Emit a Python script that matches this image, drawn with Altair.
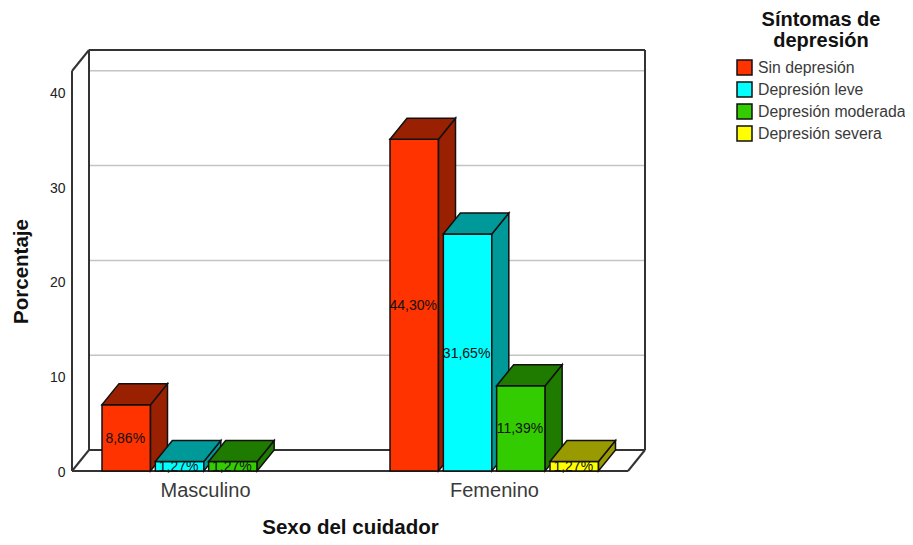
import altair as alt
import pandas as pd

categories = ["Masculino", "Femenino"]
series = ["Sin depresión", "Depresión leve", "Depresión moderada", "Depresión severa"]
front_colors = ["#FF3300", "#00FFFF", "#33CC00", "#FFFF00"]
dark_colors = ["#992000", "#009999", "#1F7A00", "#999900"]
# (category index, series index, value, label)
bar_cat = [0, 0, 0, 1, 1, 1, 1]
bar_ser = [0, 1, 2, 0, 1, 2, 3]
bar_val = [7, 1, 1, 35, 25, 9, 1]
bar_lab = ["8,86%", "1,27%", "1,27%", "44,30%", "31,65%", "11,39%", "1,27%"]
y_ticks = [0, 10, 20, 30, 40]

W, H = 573, 421
YMAX = 44.41
DX, DY = 17, 2.215
FRONT_W = W - DX
GROUP_START = [30, 318]
STEP, BAR_W = 53.33, 48.5
CAT_CENTER = [133, 422]

xs = alt.Scale(domain=[0, W], nice=False, zero=False)
ys = alt.Scale(domain=[0, YMAX], nice=False, zero=False)
cs = alt.Scale(domain=series, range=front_colors)

X_AX = alt.Axis(values=CAT_CENTER, labelExpr="datum.value < 300 ? 'Masculino' : 'Femenino'",
                domain=False, ticks=False, grid=False, labelFontSize=20, labelColor="#3a3a3a",
                labelFont="Liberation Sans", labelPadding=9,
                title="Sexo del cuidador", titleFont="Liberation Sans", titleFontSize=20.5, titleFontWeight="bold",
                titleColor="#111111", titleX=278, titleY=62, titleAnchor="middle", titleBaseline="alphabetic")
Y_AX = alt.Axis(values=y_ticks, domain=False, ticks=False, grid=False, labelFontSize=14, labelColor="#222222",
                labelFont="Liberation Sans", labelPadding=7, labelOffset=1.5,
                title="Porcentaje", titleFont="Liberation Sans", titleFontSize=20.5, titleFontWeight="bold",
                titleColor="#111111", titleX=-51, titleY=221, titleAnchor="middle", titleBaseline="middle")
LEG = alt.Legend(
    title=["Síntomas de", "depresión"], orient="none", legendX=664, legendY=-40,
    titleFont="Liberation Sans", titleFontSize=20, titleFontWeight="bold", titleColor="#111111",
    titleAnchor="middle", titleAlign="center", titleLimit=300, titlePadding=8, titleLineHeight=21,
    labelFont="Liberation Sans", labelFontSize=15.8, labelColor="#3a3a3a", labelLimit=300, labelOffset=5,
    symbolType="square", symbolSize=225, symbolStrokeColor="#111111", symbolStrokeWidth=1.5,
    rowPadding=1)

X = alt.X("x:Q", scale=xs, axis=X_AX)
Y = alt.Y("y:Q", scale=ys, axis=Y_AX)

# wall grid lines and frame segments, in data units
grid_df = pd.DataFrame({"x": [DX] * 4, "x2": [W] * 4, "y": [DY + t for t in y_ticks[1:]], "y2": [DY + t for t in y_ticks[1:]]})
top_front = YMAX - DY
frame_df = pd.DataFrame([
    dict(x=0, x2=0, y=0, y2=top_front),
    dict(x=0, x2=DX, y=top_front, y2=YMAX),
    dict(x=DX, x2=DX, y=DY, y2=YMAX),
    dict(x=DX, x2=W, y=YMAX, y2=YMAX),
    dict(x=W, x2=W, y=DY, y2=YMAX),
    dict(x=DX, x2=W, y=DY, y2=DY),
    dict(x=0, x2=DX, y=0, y2=DY),
    dict(x=FRONT_W, x2=W, y=0, y2=DY),
    dict(x=0, x2=FRONT_W, y=0, y2=0),
])


def seg(df, color, width):
    return alt.Chart(df).mark_rule(color=color, strokeWidth=width).encode(x=X, x2="x2:Q", y=Y, y2="y2:Q")


layers = [seg(grid_df, "#C4C4C4", 1.5), seg(frame_df, "#333333", 2)]

for c, s, v, lab in zip(bar_cat, bar_ser, bar_val, bar_lab):
    x0 = GROUP_START[c] + s * STEP
    x1 = x0 + BAR_W
    front = pd.DataFrame({"x": [x0], "x2": [x1], "y": [v], "y2": [0], "serie": [series[s]]})
    text = pd.DataFrame({"x": [(x0 + x1) / 2], "y": [v / 2], "t": [lab]})
    side = pd.DataFrame({"x": [x1, x1 + DX], "y": [v, v + DY], "y2": [0, DY]})
    top = pd.DataFrame({"x": [x0, x0 + DX, x1, x1 + DX],
                        "y": [v, v + DY, v + DY, v + DY],
                        "y2": [v, v, v, v + DY]})
    layers.append(alt.Chart(front).mark_rect(stroke="#111111", strokeWidth=1.5).encode(
        x=X, x2="x2:Q", y=Y, y2="y2:Q",
        color=alt.Color("serie:N", scale=cs, legend=LEG)))
    layers.append(alt.Chart(text).mark_text(font="Liberation Sans", fontSize=14, color="#111111", dx=-1, dy=1).encode(
        x=X, y=Y, text="t:N"))
    for df, col in ((side, dark_colors[s]), (top, dark_colors[s])):
        layers.append(alt.Chart(df).mark_area(fill=col, stroke="#111111", strokeWidth=1.5, opacity=1).encode(
            x=X, y=Y, y2="y2:Q"))

chart = alt.layer(*layers).properties(
    width=W, height=H,
    autosize=alt.AutoSizeParams(type="none"),
    padding={"left": 64, "top": 42, "right": 260, "bottom": 66},
    background="white",
).configure_view(stroke=None)

chart.save("out.html", embed_options={"renderer": "svg", "actions": False})
